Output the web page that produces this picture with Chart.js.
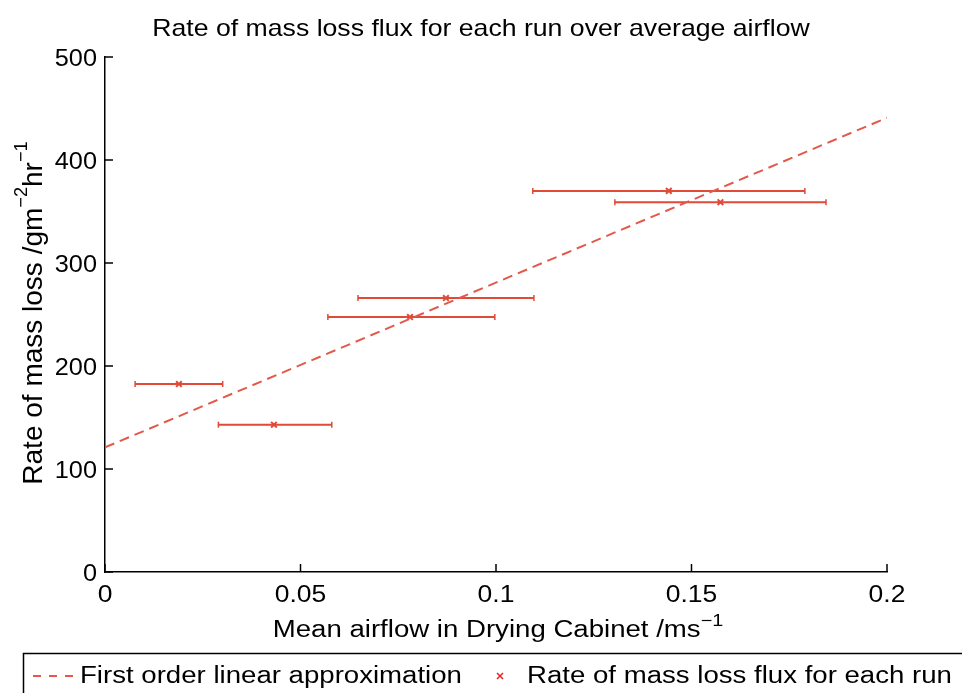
<!DOCTYPE html>
<html>
<head>
<meta charset="utf-8">
<script src="https://cdn.jsdelivr.net/npm/chart.js@4.4.0/dist/chart.umd.min.js"></script>
<style>
html, body { margin: 0; padding: 0; background: #fff; }
</style>
</head>
<body>
<canvas id="grafico" width="962" height="693"></canvas>
<script>
// Datos (flujo de aire medio y pérdida de masa por ensayo)
const airflow = [0.0189, 0.0432, 0.0780, 0.0872, 0.1442, 0.1574];
const airflowLow = [0.0077, 0.0290, 0.0570, 0.0647, 0.1094, 0.1304];
const airflowHigh = [0.0301, 0.0580, 0.0997, 0.1097, 0.1790, 0.1844];
const massLoss = [182.5, 143, 247.5, 266, 370, 359];

// Aproximación lineal de primer orden (extremos)
const fitX = [0, 0.2];
const fitY = [121, 441];

const xTickLabels = ['0', '0.05', '0.1', '0.15', '0.2'];
const yTickLabels = ['0', '100', '200', '300', '400', '500'];

const FONT = "'Liberation Sans', Arial, Helvetica, sans-serif";
const ROJO = '#e04a36';
const ROJO_LINEA = '#e2594a';

// Barras de error horizontales como segmentos separados por huecos
const errorBarData = [];
airflow.forEach((x, i) => {
    errorBarData.push({ x: airflowLow[i], y: massLoss[i] });
    errorBarData.push({ x: airflowHigh[i], y: massLoss[i] });
    errorBarData.push({ x: airflowHigh[i], y: null });
});

// Texto ensanchado horizontalmente (las fuentes del original son más anchas)
function drawText(ctx, s, x, y, size, sx, align, baseline) {
    ctx.save();
    ctx.translate(x, y);
    ctx.scale(sx, 1);
    ctx.font = size + 'px ' + FONT;
    ctx.textAlign = align;
    ctx.textBaseline = baseline || 'alphabetic';
    ctx.fillText(s, 0, 0);
    ctx.restore();
}

// Texto con superíndices, centrado en cx
function drawRich(ctx, parts, cx, baseline, size, sx, supSize, supRaise) {
    let total = 0;
    parts.forEach(p => {
        ctx.font = (p.sup ? size * supSize : size) + 'px ' + FONT;
        p.w = ctx.measureText(p.t).width * sx;
        total += p.w;
    });
    let x = cx - total / 2;
    parts.forEach(p => {
        drawText(ctx, p.t, x, p.sup ? baseline - size * supRaise : baseline,
            p.sup ? size * supSize : size, sx, 'left');
        x += p.w;
    });
}

const extras = {
    id: 'extras',
    afterDraw(chart) {
        const ctx = chart.ctx;
        const area = chart.chartArea;
        const sx = chart.scales.x;
        const sy = chart.scales.y;
        ctx.save();
        ctx.strokeStyle = '#000';
        ctx.fillStyle = '#000';
        ctx.lineWidth = 1.5;

        // marcas de escala hacia dentro y etiquetas
        sx.ticks.forEach((t, i) => {
            const px = sx.getPixelForValue(t.value);
            ctx.beginPath();
            ctx.moveTo(px, area.bottom);
            ctx.lineTo(px, area.bottom - 8);
            ctx.stroke();
            drawText(ctx, xTickLabels[i], px, 602, 23, 1.15, 'center');
        });
        sy.ticks.forEach((t, i) => {
            const py = sy.getPixelForValue(t.value);
            ctx.beginPath();
            ctx.moveTo(area.left, py);
            ctx.lineTo(area.left + 8, py);
            ctx.stroke();
            drawText(ctx, yTickLabels[i], 97, py + 9, 23, 1.1, 'right');
        });

        // título
        drawText(ctx, 'Rate of mass loss flux for each run over average airflow', 481, 36, 24, 1.11, 'center');

        // títulos de ejes
        drawRich(ctx, [
            { t: 'Mean airflow in Drying Cabinet /ms' },
            { t: '\u22121', sup: true }
        ], 498, 637, 23, 1.2, 0.72, 0.5);

        ctx.save();
        ctx.translate(42, 313);
        ctx.rotate(-Math.PI / 2);
        drawRich(ctx, [
            { t: 'Rate of mass loss /gm' },
            { t: '\u22122', sup: true },
            { t: 'hr' },
            { t: '\u22121', sup: true }
        ], 0, 0, 28, 1, 0.65, 0.52);
        ctx.restore();

        // leyenda
        ctx.lineWidth = 1.5;
        ctx.strokeRect(23.5, 653.5, 1000, 100);

        ctx.strokeStyle = ROJO_LINEA;
        ctx.lineWidth = 2;
        ctx.setLineDash([8, 8]);
        ctx.beginPath();
        ctx.moveTo(33, 676);
        ctx.lineTo(75, 676);
        ctx.stroke();
        ctx.setLineDash([]);

        ctx.strokeStyle = '#e8231c';
        ctx.lineWidth = 1.5;
        ctx.beginPath();
        ctx.moveTo(497, 673); ctx.lineTo(503, 679);
        ctx.moveTo(503, 673); ctx.lineTo(497, 679);
        ctx.stroke();

        drawText(ctx, 'First order linear approximation', 80, 683, 23, 1.2, 'left');
        drawText(ctx, 'Rate of mass loss flux for each run', 527, 683, 23, 1.2, 'left');
        ctx.restore();
    }
};

new Chart(document.getElementById('grafico').getContext('2d'), {
    type: 'scatter',
    data: {
        datasets: [
            {
                type: 'line',
                label: 'First order linear approximation',
                data: fitX.map((x, i) => ({ x: x, y: fitY[i] })),
                borderColor: ROJO_LINEA,
                borderWidth: 2,
                borderDash: [10, 6],
                pointRadius: 0,
                fill: false
            },
            {
                type: 'line',
                label: 'error',
                data: errorBarData,
                borderColor: ROJO,
                borderWidth: 2,
                spanGaps: false,
                pointStyle: 'line',
                rotation: 90,
                pointRadius: 3,
                pointBorderWidth: 1.5,
                pointBorderColor: ROJO,
                fill: false
            },
            {
                label: 'Rate of mass loss flux for each run',
                data: airflow.map((x, i) => ({ x: x, y: massLoss[i] })),
                pointStyle: 'crossRot',
                pointRadius: 4,
                pointBorderWidth: 2,
                borderColor: ROJO,
                backgroundColor: ROJO
            }
        ]
    },
    options: {
        responsive: false,
        animation: false,
        layout: { padding: { top: 57, right: 75, bottom: 0, left: 0 } },
        plugins: {
            legend: { display: false },
            tooltip: { enabled: false },
            title: { display: false }
        },
        scales: {
            x: {
                type: 'linear',
                min: 0,
                max: 0.2,
                afterFit: s => { s.height = 121; },
                ticks: { stepSize: 0.05, display: false },
                grid: { drawOnChartArea: false, drawTicks: false },
                border: { color: '#000', width: 1.5 }
            },
            y: {
                min: 0,
                max: 500,
                afterFit: s => { s.width = 105; },
                ticks: { stepSize: 100, display: false },
                grid: { drawOnChartArea: false, drawTicks: false },
                border: { color: '#000', width: 1.5 }
            }
        }
    },
    plugins: [extras]
});
</script>
</body>
</html>
